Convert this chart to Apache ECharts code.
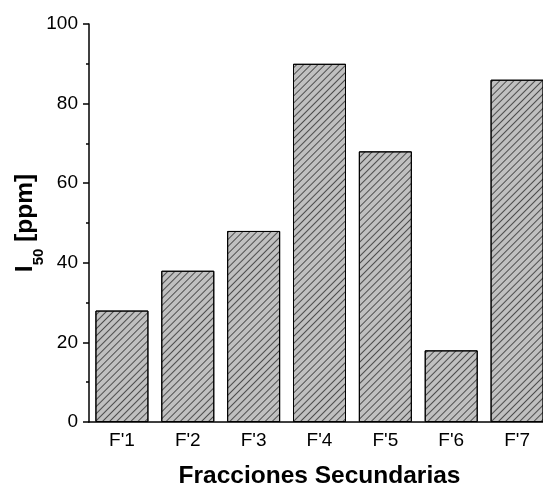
<!DOCTYPE html>
<html>
<head>
<meta charset="utf-8">
<script src="https://cdn.jsdelivr.net/npm/echarts@6/dist/echarts.min.js"></script>
<style>
html,body{margin:0;padding:0;background:#fff;}
#chart{width:543px;height:488px;}
</style>
</head>
<body>
<div id="chart"></div>
<script>
const categories = ["F'1", "F'2", "F'3", "F'4", "F'5", "F'6", "F'7"];
const values = [28, 38, 48, 90, 68, 18, 86];
const yMin = 0, yMax = 100, yInterval = 20;

const font = '"Liberation Sans", Arial, sans-serif';
const chart = echarts.init(document.getElementById('chart'), null, {renderer: 'canvas'});
chart.setOption({
  animation: false,
  backgroundColor: '#fff',
  grid: {left: 89, top: 24, width: 461, height: 398, containLabel: false, outerBoundsMode: 'none'},
  xAxis: [{
    type: 'category',
    data: categories,
    boundaryGap: true,
    axisLine: {lineStyle: {color: '#000', width: 1.5}},
    axisTick: {alignWithLabel: true, length: 6, lineStyle: {color: '#000', width: 1.5}},
    axisLabel: {color: '#000', fontSize: 19, fontFamily: font, margin: 9},
    name: 'Fracciones Secundarias',
    nameLocation: 'middle',
    nameGap: 42,
    nameMoveOverlap: false,
    nameTextStyle: {color: '#000', fontSize: 24.5, fontWeight: 'bold', fontFamily: font}
  }, {
    type: 'category',
    data: categories,
    position: 'bottom',
    boundaryGap: true,
    axisLine: {show: false},
    axisTick: {alignWithLabel: false, length: 3, lineStyle: {color: '#000', width: 1.5}},
    axisLabel: {show: false}
  }],
  yAxis: {
    type: 'value',
    min: yMin, max: yMax, interval: yInterval,
    axisLine: {show: true, lineStyle: {color: '#000', width: 1.5}},
    axisTick: {show: true, length: 6, lineStyle: {color: '#000', width: 1.5}},
    minorTick: {show: true, splitNumber: 2, length: 3, lineStyle: {color: '#000', width: 1.5}},
    splitLine: {show: false},
    axisLabel: {color: '#000', fontSize: 19, fontFamily: font, margin: 11},
    name: '{m|I}{s|50}{m| [ppm]}',
    nameLocation: 'middle',
    nameGap: 43,
    nameMoveOverlap: false,
    nameTextStyle: {
      color: '#000', fontWeight: 'bold', fontFamily: font,
      rich: {
        m: {fontSize: 24.5, fontWeight: 'bold', fontFamily: font, color: '#000', verticalAlign: 'top', lineHeight: 33},
        s: {fontSize: 15, fontWeight: 'bold', fontFamily: font, color: '#000', verticalAlign: 'bottom', lineHeight: 33}
      }
    }
  },
  series: [{
    type: 'bar',
    xAxisIndex: 0,
    data: values,
    barWidth: 53,
    itemStyle: {
      color: '#c0c0c0',
      borderColor: '#000',
      borderWidth: 1,
      decal: {
        symbol: 'rect',
        symbolSize: 1,
        color: 'rgba(0,0,0,0.6)',
        dashArrayX: [1, 0],
        dashArrayY: [1, 4],
        rotation: -Math.PI / 4
      }
    }
  }]
});
</script>
</body>
</html>
